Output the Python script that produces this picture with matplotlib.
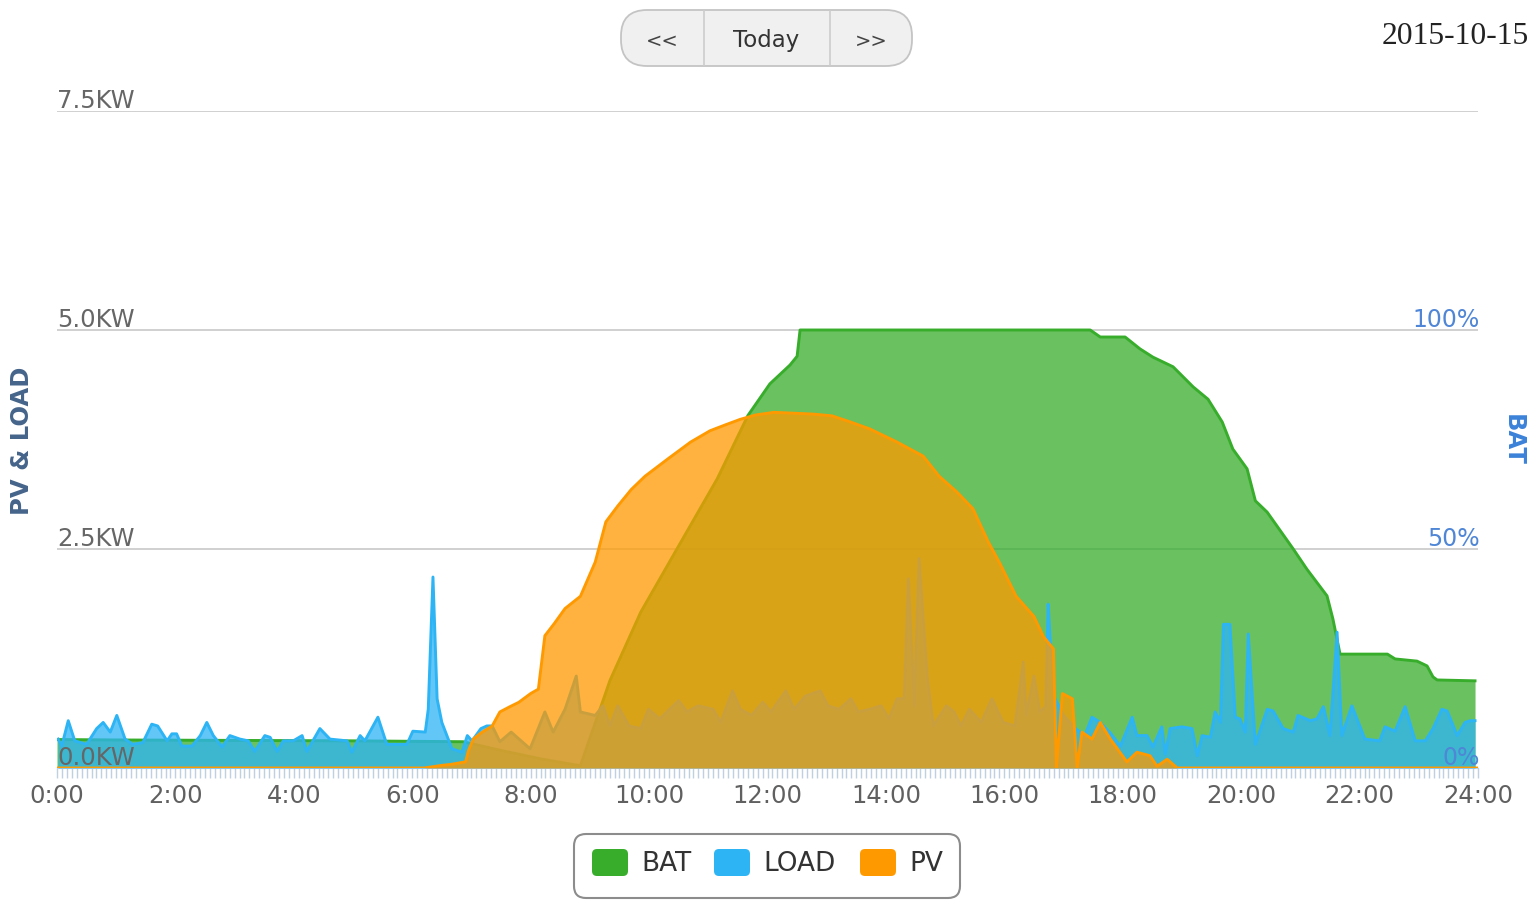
import matplotlib
matplotlib.use("Agg")
import matplotlib.pyplot as plt
import matplotlib.transforms as mtransforms
from matplotlib.patches import FancyBboxPatch
from matplotlib.ticker import MultipleLocator

plt.rcParams['font.family'] = ['DejaVu Sans']

# ---- values ----
# battery state of charge (%)
bat_hours = [0.0, 1.0, 3.0, 5.0, 6.86, 7.5, 8.2, 8.84, 9.34, 9.86, 10.5, 11.15,
             11.67, 12.04, 12.38, 12.5, 12.55, 17.45, 17.62, 18.04, 18.29, 18.51,
             18.85, 19.19, 19.44, 19.68, 19.86, 20.10, 20.24, 20.44, 20.88, 21.11,
             21.45, 21.55, 21.67, 22.47, 22.60, 22.97, 23.14, 23.24, 23.31, 23.95]
bat_pct = [6.5, 6.4, 6.3, 6.2, 6.0, 4.0, 2.0, 0.5, 20.0, 35.6, 50.7, 66.0,
           80.5, 87.7, 92.0, 94.0, 100.0, 100.0, 98.4, 98.4, 95.7, 93.8,
           91.6, 87.0, 84.2, 79.0, 72.8, 68.3, 61.0, 58.4, 50.0, 45.4,
           39.3, 34.0, 26.0, 26.0, 24.9, 24.4, 23.3, 20.8, 20.1, 19.9]

# household load (kW)
load_hours = [0.02, 0.08, 0.19, 0.30, 0.50, 0.67, 0.78, 0.90, 1.01, 1.15, 1.28, 1.45,
              1.60, 1.70, 1.86, 1.94, 2.02, 2.11, 2.28, 2.42, 2.53, 2.64, 2.79, 2.92,
              3.09, 3.23, 3.34, 3.51, 3.60, 3.72, 3.82, 3.99, 4.14, 4.22, 4.44, 4.61,
              4.90, 4.98, 5.12, 5.20, 5.42, 5.57, 5.91, 6.01, 6.22, 6.27, 6.35, 6.42,
              6.50, 6.67, 6.84, 6.93, 7.01, 7.16, 7.26, 7.35, 7.48, 7.67, 7.99, 8.24,
              8.38, 8.58, 8.77, 8.84, 9.09, 9.22, 9.34, 9.47, 9.66, 9.86, 9.99, 10.18,
              10.50, 10.64, 10.83, 11.08, 11.21, 11.41, 11.54, 11.73, 11.92, 12.06, 12.31, 12.45,
              12.64, 12.89, 13.02, 13.21, 13.41, 13.53, 13.73, 13.92, 14.05, 14.19, 14.31, 14.38,
              14.48, 14.56, 14.70, 14.80, 15.02, 15.15, 15.27, 15.41, 15.61, 15.79, 15.98, 16.18,
              16.32, 16.37, 16.50, 16.60, 16.70, 16.74, 16.77, 16.85, 17.00, 17.20, 17.36, 17.48,
              17.62, 17.79, 17.96, 18.16, 18.24, 18.41, 18.51, 18.66, 18.72, 18.80, 19.00, 19.17,
              19.26, 19.34, 19.48, 19.56, 19.65, 19.70, 19.81, 19.90, 19.98, 20.07, 20.12, 20.24,
              20.44, 20.54, 20.71, 20.88, 20.96, 21.17, 21.28, 21.39, 21.50, 21.62, 21.70, 21.87,
              22.09, 22.34, 22.43, 22.60, 22.77, 22.94, 23.11, 23.24, 23.39, 23.48, 23.65, 23.78,
              23.87, 23.95]
load_kw = [0.33, 0.25, 0.54, 0.31, 0.27, 0.45, 0.52, 0.41, 0.60, 0.33, 0.27, 0.29,
           0.50, 0.48, 0.31, 0.39, 0.39, 0.25, 0.25, 0.37, 0.52, 0.37, 0.24, 0.37,
           0.33, 0.31, 0.19, 0.37, 0.35, 0.19, 0.31, 0.31, 0.37, 0.19, 0.45, 0.33,
           0.31, 0.18, 0.37, 0.31, 0.58, 0.27, 0.27, 0.42, 0.41, 0.67, 2.18, 0.79,
           0.52, 0.22, 0.18, 0.37, 0.31, 0.45, 0.48, 0.48, 0.30, 0.41, 0.22, 0.64,
           0.41, 0.67, 1.05, 0.64, 0.60, 0.71, 0.48, 0.71, 0.48, 0.45, 0.67, 0.56,
           0.77, 0.64, 0.71, 0.67, 0.52, 0.88, 0.67, 0.60, 0.75, 0.64, 0.88, 0.67,
           0.82, 0.88, 0.71, 0.67, 0.79, 0.64, 0.67, 0.71, 0.56, 0.79, 0.79, 2.16,
           0.71, 2.39, 1.02, 0.48, 0.71, 0.64, 0.48, 0.67, 0.52, 0.79, 0.52, 0.48,
           1.21, 0.60, 1.05, 0.64, 0.70, 1.87, 1.50, 0.80, 0.60, 0.45, 0.37, 0.58,
           0.52, 0.40, 0.25, 0.58, 0.37, 0.37, 0.24, 0.47, 0.16, 0.45, 0.47, 0.45,
           0.14, 0.37, 0.35, 0.64, 0.52, 1.64, 1.64, 0.58, 0.56, 0.41, 1.53, 0.27,
           0.67, 0.65, 0.45, 0.41, 0.60, 0.54, 0.56, 0.70, 0.37, 1.55, 0.37, 0.71,
           0.33, 0.31, 0.47, 0.42, 0.70, 0.31, 0.31, 0.45, 0.67, 0.65, 0.37, 0.52,
           0.54, 0.54]

# solar production (kW)
pv_hours = [0.0, 6.2, 6.5, 6.64, 6.9, 6.95, 7.03, 7.16, 7.35, 7.48, 7.65, 7.8,
            8.0, 8.13, 8.24, 8.40, 8.58, 8.84, 9.09, 9.27, 9.47, 9.70, 9.93, 10.32,
            10.70, 11.03, 11.30, 11.54, 11.80, 12.11, 12.45, 12.77, 13.09, 13.40, 13.73, 14.19,
            14.63, 14.90, 15.20, 15.47, 15.73, 15.93, 16.20, 16.50, 16.66, 16.83, 16.88, 16.98,
            17.15, 17.23, 17.31, 17.48, 17.62, 17.79, 18.07, 18.24, 18.46, 18.58, 18.75, 18.92,
            24.0]
pv_kw = [0.0, 0.0, 0.03, 0.04, 0.07, 0.20, 0.33, 0.40, 0.48, 0.64, 0.70, 0.75,
         0.85, 0.90, 1.51, 1.65, 1.82, 1.96, 2.35, 2.81, 2.99, 3.18, 3.33, 3.53,
         3.72, 3.85, 3.92, 3.98, 4.03, 4.06, 4.05, 4.04, 4.02, 3.95, 3.87, 3.72,
         3.56, 3.33, 3.15, 2.96, 2.58, 2.33, 1.96, 1.73, 1.50, 1.36, 0.0, 0.85,
         0.79, 0.0, 0.41, 0.33, 0.52, 0.33, 0.07, 0.18, 0.14, 0.02, 0.10, 0.0,
         0.0]

hour_ticks = list(range(0, 25, 2))
hour_labels = ['%d:00' % h for h in hour_ticks]
kw_ticks = [0.0, 2.5, 5.0, 7.5]
kw_labels = ['0.0KW', '2.5KW', '5.0KW', '7.5KW']
bat_ticks = [0, 50, 100]
bat_labels = ['0%', '50%', '100%']
series_names = ['BAT', 'LOAD', 'PV']

green = '#37ad2b'
blue = '#2db4f5'
orange = '#ff9900'
series_colors = [green, blue, orange]

W, H = 1527, 903
fig = plt.figure(figsize=(W / 100, H / 100), dpi=100)

# plot box in pixels
L, R, B, T = 57, 1478, 769, 112
ax = fig.add_axes([L / W, 1 - B / H, (R - L) / W, (B - T) / H])
ax.set_xlim(0, 24)
ax.set_ylim(0, 150)          # battery %, 100% sits on the 5 kW line
kw = ax.twinx()
kw.set_ylim(0, 7.5)

for a in (ax, kw):
    for s in a.spines.values():
        s.set_visible(False)

ax.set_axisbelow(True)
ax.set_yticks([50, 100, 150])
ax.yaxis.grid(True, color='#c8c8c8', lw=1.2)
ax.tick_params(axis='y', left=False, labelleft=False)
kw.tick_params(axis='y', right=False, labelright=False)

ax.spines['bottom'].set_visible(True)
ax.spines['bottom'].set_color('#c0d0e0')
ax.set_xticks(hour_ticks)
ax.set_xticklabels(hour_labels)
ax.xaxis.set_minor_locator(MultipleLocator(1 / 12))
ax.tick_params(axis='x', which='both', direction='out', length=7, width=1,
               color='#c0d0e0', pad=4, labelsize=17.5, labelcolor='#606060')

# series: battery under load under pv, each line right over its own area
lw = 2.1
ax.fill_between(bat_hours, bat_pct, color=green, alpha=0.75, lw=0, zorder=1)
ax.plot(bat_hours, bat_pct, color=green, lw=lw, zorder=2)
kw.fill_between(load_hours, load_kw, color=blue, alpha=0.75, lw=0, zorder=3)
kw.plot(load_hours, load_kw, color=blue, lw=lw, zorder=4)
kw.fill_between(pv_hours, pv_kw, color=orange, alpha=0.75, lw=0, zorder=5)
kw.plot(pv_hours, pv_kw, color=orange, lw=lw, zorder=6)

# axis value labels sit on top of the grid lines
left_tr = mtransforms.offset_copy(
    mtransforms.blended_transform_factory(kw.transAxes, kw.transData),
    fig=fig, x=0, y=4, units='dots')
for v, lab in zip(kw_ticks, kw_labels):
    kw.text(0, v, lab, transform=left_tr, ha='left', va='baseline',
            fontsize=17.5, color='#666666', zorder=10)
right_tr = mtransforms.offset_copy(
    mtransforms.blended_transform_factory(ax.transAxes, ax.transData),
    fig=fig, x=2, y=4, units='dots')
for v, lab in zip(bat_ticks, bat_labels):
    kw.text(1, v, lab, transform=right_tr, ha='right', va='baseline',
            fontsize=17, color='#4f86d6', zorder=10)

fig.text(22 / W, 1 - 441 / H, 'PV & LOAD', rotation=90, ha='center', va='center',
         fontsize=17.5, fontweight='bold', color='#45648a')
fig.text(1513 / W, 1 - 440 / H, 'BAT', rotation=270, ha='center', va='center',
         fontsize=17.5, fontweight='bold', color='#3b82d9')

# overlay in pixel units for the buttons, date and legend
ov = fig.add_axes([0, 0, 1, 1])
ov.set_xlim(0, W)
ov.set_ylim(H, 0)
ov.axis('off')

ov.add_patch(FancyBboxPatch((621, 11), 291, 56, boxstyle='round,pad=0,rounding_size=26',
                            fc='#f0f0f0', ec='#c4c4c4', lw=1.3))
ov.plot([704, 704], [12, 66], color='#cdcdcd', lw=1.2)
ov.plot([830, 830], [12, 66], color='#cdcdcd', lw=1.2)
ov.text(662, 41, '<<', ha='center', va='center', fontsize=14, color='#444444')
ov.text(766, 40, 'Today', ha='center', va='center', fontsize=16.5, color='#333333')
ov.text(871, 41, '>>', ha='center', va='center', fontsize=14, color='#444444')

ov.text(1382, 37, '2015-10-15', ha='left', va='center', family='Liberation Serif',
        fontsize=22.8, color='#222222')

ov.add_patch(FancyBboxPatch((574, 835), 386, 64, boxstyle='round,pad=0,rounding_size=12',
                            fc='white', ec='#8c8c8c', lw=1.5))
for x0, name, col in zip([592, 714, 860], series_names, series_colors):
    ov.add_patch(FancyBboxPatch((x0, 850), 36, 27, boxstyle='round,pad=0,rounding_size=5',
                                fc=col, ec='none'))
    ov.text(x0 + 49, 864, name, ha='left', va='center', fontsize=19, color='#333333')

fig.savefig('out.png', dpi=100)
